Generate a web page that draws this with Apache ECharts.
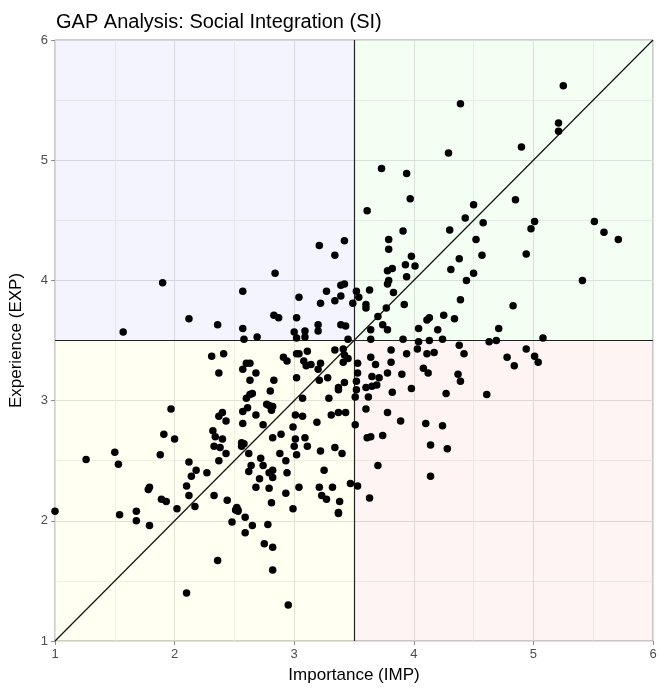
<!DOCTYPE html>
<html>
<head>
<meta charset="utf-8">
<script src="https://cdn.jsdelivr.net/npm/echarts@6/dist/echarts.min.js"></script>
<style>html,body{margin:0;padding:0;background:#fff}#c{width:660px;height:689px}</style>
</head>
<body>
<div id="c"></div>
<script>
// Importance (IMP) values
const imp = [
4.29,3.73,3.94,3.97,3.61,3.91,4.30,3.79,5.25,4.39,5.21,5.21,4.90,4.85,4.50,4.43,4.58,5.01,4.98,5.51,5.59,5.71,4.52,4.38,4.57,4.94,4.31,4.50,4.44,5.41,4.39,4.83,4.25,4.34,4.71,5.08,3.79,3.98,3.93,4.01,3.82,3.78,3.94,3.79,3.78,3.83,3.52,3.54,3.63,3.60,3.60,3.92,3.77,3.70,3.74,3.78,3.64,4.11,4.13,4.04,4.20,3.64,3.91,4.24,
3.42,3.21,3.34,2.84,2.57,3.39,3.42,3.27,3.39,3.34,3.04,3.22,3.49,1.90,1.57,2.12,2.36,2.57,2.58,2.69,3.00,3.09,3.02,3.09,2.83,2.87,3.02,3.20,3.20,3.39,3.43,3.45,
4.04,4.13,4.63,4.69,4.38,4.42,4.94,4.78,5.01,5.04,4.84,4.37,4.39,4.27,4.61,4.24,4.28,3.61,3.64,3.74,4.14,3.70,4.14,3.63,3.53,4.03,4.11,4.17,3.81,3.94,3.64,3.81,3.68,3.53,3.53,3.78,3.90,4.08,4.12,3.65,3.71,3.69,3.65,3.60,3.52,3.52,3.51,3.62,3.82,3.98,3.60,3.78,3.89,4.10,3.51,
3.47,3.38,3.37,3.37,3.32,3.27,3.23,3.21,3.25,3.22,3.34,3.40,3.09,3.11,3.01,3.00,3.02,2.89,2.82,2.99,2.88,2.93,2.94,3.04,2.93,2.99,2.81,2.79,2.68,2.71,2.82,2.82,2.79,2.74,2.64,2.62,2.72,2.62,2.58,2.59,2.65,2.59,2.78,2.75,2.82,2.82,2.95,
1.91,2.00,1.26,1.50,1.53,1.88,2.12,2.18,2.14,2.27,2.10,2.12,2.17,2.02,1.79,1.78,1.89,1.93,1.00,1.54,1.68,1.68,1.79,2.33,2.44,2.51,2.53,2.53,2.48,2.36,2.10,2.32,2.34,2.40,2.33,2.38,2.43,2.37,2.56,2.56,2.52,
2.31,2.41,2.37,2.60,2.63,2.57,2.63,2.60,2.63,2.61,2.57,1.97,2.37,2.40,2.43,2.57,2.68,2.91,2.94,3.02,3.04,3.11,3.08,3.10,3.02,2.83,2.80,2.65,2.68,2.79,2.82,2.81,3.07,3.01,3.07,2.74,3.14,3.22,3.20,3.34,3.41,3.42,3.45,3.41,3.21,3.28,3.42,3.37,3.37,3.29,3.37,3.43,3.19,3.31,2.77
];
// Experience (EXP) values
const exp = [
5.06,4.93,4.89,4.68,4.58,4.41,4.42,4.34,5.62,5.47,5.31,5.24,5.11,4.67,4.63,4.52,4.48,4.49,4.43,4.49,4.40,4.34,4.34,4.18,4.21,4.22,4.09,4.06,4.00,4.00,3.84,3.79,3.71,3.68,3.60,3.52,4.26,4.20,4.13,4.12,4.10,4.08,4.03,4.00,3.97,3.90,3.91,3.86,3.92,3.80,3.77,3.80,3.77,3.70,3.63,3.59,3.59,3.67,3.69,3.60,3.59,3.51,3.51,3.51,
4.33,4.29,4.21,4.06,3.91,3.96,3.97,3.91,3.87,3.83,3.86,3.81,3.81,3.98,3.57,3.68,3.63,3.60,3.51,3.53,3.57,3.58,3.52,3.53,3.71,3.69,3.69,3.63,3.58,3.63,3.62,3.51,
3.49,3.50,3.49,3.50,3.46,3.39,3.43,3.36,3.37,3.32,3.29,3.22,3.16,3.06,3.05,2.79,2.60,2.69,2.70,2.71,2.63,2.46,2.37,2.19,2.29,3.43,3.39,3.40,3.42,3.39,3.36,3.32,3.30,3.31,3.23,3.23,3.22,3.27,3.23,3.20,3.19,3.13,3.12,3.11,3.16,3.09,3.03,3.03,3.07,3.10,2.93,2.90,2.83,2.81,2.80,
2.31,2.16,2.07,2.06,2.28,2.18,2.21,2.28,2.42,2.58,2.61,2.56,2.69,2.62,2.68,2.62,2.55,2.72,2.69,2.78,2.56,2.50,2.40,2.28,2.23,2.10,2.15,2.27,2.28,2.35,2.36,2.42,2.40,2.46,2.46,2.41,2.52,2.56,2.64,2.03,1.96,1.90,1.97,1.81,1.78,1.59,1.30,
2.72,2.68,2.51,2.57,2.47,2.55,2.49,2.42,2.37,2.40,2.29,2.21,2.12,2.10,2.28,2.26,2.18,2.16,2.08,2.05,2.08,2.00,1.96,2.21,2.17,2.09,2.09,2.08,1.99,1.67,1.40,2.75,2.70,2.68,2.62,2.61,2.56,2.50,2.65,2.62,2.11,
3.37,3.39,3.23,3.31,3.31,3.26,3.17,3.02,3.05,2.94,2.91,2.93,2.87,2.90,2.83,2.81,3.23,3.36,3.33,3.39,3.39,3.41,3.33,3.29,3.19,3.17,3.08,3.06,2.88,2.96,2.95,2.92,3.02,2.88,2.87,2.80,3.30,3.31,3.26,3.42,3.43,3.38,3.35,3.32,3.17,3.19,3.15,3.11,3.09,3.02,2.90,2.90,2.82,2.88,2.97
];
const xTicks = [1, 2, 3, 4, 5, 6];
const yTicks = [1, 2, 3, 4, 5, 6];
const threshold = 3.5;
const refLine = [1, 6];

const points = imp.map((v, i) => [v, exp[i]]);
const lo = xTicks[0], hi = xTicks[xTicks.length - 1];
const font = 'Liberation Sans, Arial, Helvetica, sans-serif';

const chart = echarts.init(document.getElementById('c'), null, {renderer: 'canvas'});
chart.setOption({
  animation: false,
  backgroundColor: '#ffffff',
  title: {
    text: 'GAP Analysis: Social Integration (SI)',
    left: 51, top: 7,
    textStyle: {fontFamily: font, fontSize: 20, fontWeight: 'normal', color: '#000'}
  },
  grid: {
    left: 52, right: 7, top: 40, bottom: 48,
    show: true, borderColor: '#9a9a9a', borderWidth: 1, backgroundColor: 'transparent'
  },
  xAxis: {
    type: 'value', min: lo, max: hi, interval: 1,
    name: 'Importance (IMP)', nameLocation: 'middle', nameGap: 26,
    nameTextStyle: {fontFamily: font, fontSize: 17, color: '#000'},
    axisLine: {show: false},
    axisTick: {show: true, length: 4, lineStyle: {color: '#8c8c8c'}},
    axisLabel: {fontFamily: font, fontSize: 13, color: '#4d4d4d', margin: 7},
    splitLine: {show: true, lineStyle: {color: '#e0e0e0', width: 1}},
    minorTick: {show: false, splitNumber: 2},
    minorSplitLine: {show: true, lineStyle: {color: '#ececec', width: 0.8}}
  },
  yAxis: {
    type: 'value', min: lo, max: hi, interval: 1,
    name: 'Experience (EXP)', nameLocation: 'middle', nameGap: 30, nameRotate: 90,
    nameTextStyle: {fontFamily: font, fontSize: 17, color: '#000'},
    axisLine: {show: false},
    axisTick: {show: true, length: 4, lineStyle: {color: '#8c8c8c'}},
    axisLabel: {fontFamily: font, fontSize: 13, color: '#4d4d4d', margin: 7},
    splitLine: {show: true, lineStyle: {color: '#e0e0e0', width: 1}},
    minorTick: {show: false, splitNumber: 2},
    minorSplitLine: {show: true, lineStyle: {color: '#ececec', width: 0.8}}
  },
  series: [
    {
      type: 'line', z: 2, silent: true, symbol: 'none',
      data: [[refLine[0], refLine[0]], [refLine[1], refLine[1]]],
      lineStyle: {color: '#111', width: 1.2},
      markArea: {
        silent: true,
        data: [
          [{xAxis: lo, yAxis: threshold, itemStyle: {color: 'rgba(0,0,255,0.045)'}}, {xAxis: threshold, yAxis: hi}],
          [{xAxis: threshold, yAxis: threshold, itemStyle: {color: 'rgba(0,255,0,0.045)'}}, {xAxis: hi, yAxis: hi}],
          [{xAxis: lo, yAxis: lo, itemStyle: {color: 'rgba(255,255,0,0.05)'}}, {xAxis: threshold, yAxis: threshold}],
          [{xAxis: threshold, yAxis: lo, itemStyle: {color: 'rgba(255,0,0,0.045)'}}, {xAxis: hi, yAxis: threshold}]
        ]
      },
      markLine: {
        silent: true, symbol: 'none', label: {show: false},
        lineStyle: {color: '#222', width: 1.2, type: 'solid'},
        data: [{xAxis: threshold}, {yAxis: threshold}]
      }
    },
    {
      type: 'scatter', z: 5, symbol: 'circle', symbolSize: 7.5,
      itemStyle: {color: '#000', opacity: 1},
      data: points
    }
  ]
});
</script>
</body>
</html>
